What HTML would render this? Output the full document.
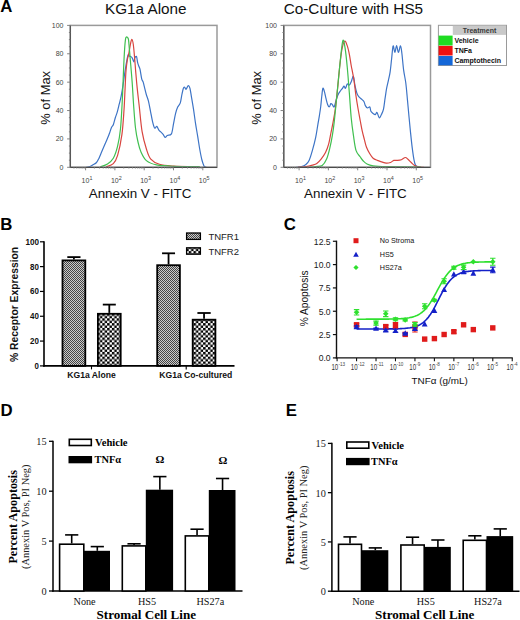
<!DOCTYPE html>
<html><head><meta charset="utf-8"><title>Figure</title>
<style>html,body{margin:0;padding:0;background:#fff;width:520px;height:620px;overflow:hidden}svg{display:block}</style>
</head><body>
<svg width="520" height="620" viewBox="0 0 520 620">
<text x="145.8" y="14.1" font-size="15.3" font-weight="normal" text-anchor="middle" fill="#111" font-family='"Liberation Sans", sans-serif'>KG1a Alone</text>
<path d="M86,167.4 C86.67,167.25 88.83,166.93 90,166.5 C91.17,166.07 91.92,165.47 93,164.8 C94.08,164.13 95.52,163.57 96.5,162.5 C97.48,161.43 98.02,160.22 98.9,158.4 C99.78,156.58 100.83,153.87 101.8,151.6 C102.77,149.33 103.73,147.05 104.7,144.8 C105.67,142.55 106.8,140.03 107.6,138.1 C108.4,136.17 108.85,134.98 109.5,133.2 C110.15,131.42 110.85,128.85 111.5,127.4 C112.15,125.95 112.77,126.12 113.4,124.5 C114.03,122.88 114.65,119.8 115.3,117.7 C115.95,115.6 116.65,114.15 117.3,111.9 C117.95,109.65 118.57,106.78 119.2,104.2 C119.83,101.62 120.45,99.63 121.1,96.4 C121.75,93.17 122.52,88.53 123.1,84.8 C123.68,81.07 124.15,77.05 124.6,74 C125.05,70.95 125.4,68.92 125.8,66.5 C126.2,64.08 126.6,61.5 127,59.5 C127.4,57.5 127.8,55.07 128.2,54.5 C128.6,53.93 128.95,55.75 129.4,56.1 C129.85,56.45 130.42,56.27 130.9,56.6 C131.38,56.93 131.82,57.22 132.3,58.1 C132.78,58.98 133.4,61.9 133.8,61.9 C134.2,61.9 134.38,58.98 134.7,58.1 C135.02,57.22 135.37,56.77 135.7,56.6 C136.03,56.43 136.37,56.05 136.7,57.1 C137.03,58.15 137.3,61.28 137.7,62.9 C138.1,64.52 138.7,65.67 139.1,66.8 C139.5,67.93 139.67,67.7 140.1,69.7 C140.53,71.7 141.2,76.77 141.7,78.8 C142.2,80.83 142.68,80.68 143.1,81.9 C143.52,83.12 143.67,84 144.2,86.1 C144.73,88.2 145.6,92.05 146.3,94.5 C147,96.95 147.7,98 148.4,100.8 C149.1,103.6 149.8,107.8 150.5,111.3 C151.2,114.8 151.9,119 152.6,121.8 C153.3,124.6 154,127.33 154.7,128.1 C155.4,128.87 156.1,126.07 156.8,126.4 C157.5,126.73 158.2,129.13 158.9,130.1 C159.6,131.07 160.3,131.5 161,132.2 C161.7,132.9 162.4,133.42 163.1,134.3 C163.8,135.18 164.5,137.32 165.2,137.5 C165.9,137.68 166.27,136 167.3,135.4 C168.33,134.8 170.37,135.82 171.4,133.9 C172.43,131.98 172.8,127.32 173.5,123.9 C174.2,120.48 174.9,116.2 175.6,113.4 C176.3,110.6 176.92,108.85 177.7,107.1 C178.48,105.35 179.6,105 180.3,102.9 C181,100.8 181.38,96.95 181.9,94.5 C182.42,92.05 182.93,89.42 183.4,88.2 C183.87,86.98 184.25,87.02 184.7,87.2 C185.15,87.38 185.52,89.55 186.1,89.3 C186.68,89.05 187.57,85.88 188.2,85.7 C188.83,85.52 189.37,86.38 189.9,88.2 C190.43,90.02 190.8,93.1 191.4,96.6 C192,100.1 192.8,104.65 193.5,109.2 C194.2,113.75 194.9,119.37 195.6,123.9 C196.3,128.43 197.02,132.22 197.7,136.4 C198.38,140.58 199.02,145.15 199.7,149 C200.38,152.85 201.1,156.7 201.8,159.5 C202.5,162.3 203.37,164.58 203.9,165.8 C204.43,167.02 204.57,166.55 205,166.8 C205.43,167.05 206.25,167.22 206.5,167.3" fill="none" stroke="#3d74c6" stroke-width="1.2" stroke-linejoin="round"/>
<path d="M106.1,166.9 C107.3,166.37 111.38,165.62 113.3,163.7 C115.22,161.78 116.17,160.25 117.6,155.4 C119.03,150.55 120.83,142.17 121.9,134.6 C122.97,127.03 123.47,117.75 124,110 C124.53,102.25 124.77,94.65 125.1,88.1 C125.43,81.55 125.6,75.55 126,70.7 C126.4,65.85 127.08,61.58 127.5,59 C127.92,56.42 128.02,57.62 128.5,55.2 C128.98,52.78 129.85,47.13 130.4,44.5 C130.95,41.87 131.32,39.4 131.8,39.4 C132.28,39.4 132.82,41.23 133.3,44.5 C133.78,47.77 134.3,54.48 134.7,59 C135.1,63.52 135.28,66.75 135.7,71.6 C136.12,76.45 136.62,82.4 137.2,88.1 C137.78,93.8 138.38,98.53 139.2,105.8 C140.02,113.07 140.9,124.5 142.1,131.7 C143.3,138.9 144.95,144.43 146.4,149 C147.85,153.57 148.63,156.55 150.8,159.1 C152.97,161.65 155.57,163.13 159.4,164.3 C163.23,165.47 168.5,165.72 173.8,166.1 C179.1,166.48 188.3,166.52 191.2,166.6" fill="none" stroke="#d8453f" stroke-width="1.2" stroke-linejoin="round"/>
<path d="M100.3,166.9 C101.5,166.42 105.33,165.43 107.5,164 C109.67,162.57 111.62,161.27 113.3,158.3 C114.98,155.33 116.4,151.12 117.6,146.2 C118.8,141.28 119.72,136.5 120.5,128.8 C121.28,121.1 121.78,110.02 122.3,100 C122.82,89.98 123.22,77.13 123.6,68.7 C123.98,60.27 124.27,54.4 124.6,49.4 C124.93,44.4 125.28,40.77 125.6,38.7 C125.92,36.63 126.18,37.2 126.5,37 C126.82,36.8 127.17,37.05 127.5,37.5 C127.83,37.95 128.18,37.72 128.5,39.7 C128.82,41.68 129,44.88 129.4,49.4 C129.8,53.92 130.42,61 130.9,66.8 C131.38,72.6 131.85,77.83 132.3,84.2 C132.75,90.57 133.07,97.7 133.6,105 C134.13,112.3 134.77,121.83 135.5,128 C136.23,134.17 137.08,138 138,142 C138.92,146 139.6,148.9 141,152 C142.4,155.1 143.82,158.45 146.4,160.6 C148.98,162.75 151.93,163.95 156.5,164.9 C161.07,165.85 166.58,166.02 173.8,166.3 C181.02,166.58 195.47,166.55 199.8,166.6" fill="none" stroke="#3fbf4f" stroke-width="1.2" stroke-linejoin="round"/>
<rect x="70.3" y="25.4" width="146.7" height="141.9" fill="none" stroke="#9a9a9a" stroke-width="1.5"/>
<line x1="70.3" y1="25.4" x2="70.3" y2="167.3" stroke="#4a4a4a" stroke-width="1.1"/>
<line x1="70.3" y1="167.3" x2="217" y2="167.3" stroke="#4a4a4a" stroke-width="1.2"/>
<line x1="67.1" y1="167.3" x2="70.3" y2="167.3" stroke="#777" stroke-width="0.9"/>
<text x="63.5" y="169.7" font-size="7" font-weight="normal" text-anchor="end" fill="#444" font-family='"Liberation Sans", sans-serif'>0</text>
<line x1="68.9" y1="160.21" x2="70.3" y2="160.21" stroke="#777" stroke-width="0.9"/>
<line x1="68.9" y1="153.11" x2="70.3" y2="153.11" stroke="#777" stroke-width="0.9"/>
<line x1="68.9" y1="146.02" x2="70.3" y2="146.02" stroke="#777" stroke-width="0.9"/>
<line x1="67.1" y1="138.92" x2="70.3" y2="138.92" stroke="#777" stroke-width="0.9"/>
<text x="63.5" y="141.32" font-size="7" font-weight="normal" text-anchor="end" fill="#444" font-family='"Liberation Sans", sans-serif'>20</text>
<line x1="68.9" y1="131.83" x2="70.3" y2="131.83" stroke="#777" stroke-width="0.9"/>
<line x1="68.9" y1="124.73" x2="70.3" y2="124.73" stroke="#777" stroke-width="0.9"/>
<line x1="68.9" y1="117.64" x2="70.3" y2="117.64" stroke="#777" stroke-width="0.9"/>
<line x1="67.1" y1="110.54" x2="70.3" y2="110.54" stroke="#777" stroke-width="0.9"/>
<text x="63.5" y="112.94" font-size="7" font-weight="normal" text-anchor="end" fill="#444" font-family='"Liberation Sans", sans-serif'>40</text>
<line x1="68.9" y1="103.45" x2="70.3" y2="103.45" stroke="#777" stroke-width="0.9"/>
<line x1="68.9" y1="96.35" x2="70.3" y2="96.35" stroke="#777" stroke-width="0.9"/>
<line x1="68.9" y1="89.26" x2="70.3" y2="89.26" stroke="#777" stroke-width="0.9"/>
<line x1="67.1" y1="82.16" x2="70.3" y2="82.16" stroke="#777" stroke-width="0.9"/>
<text x="63.5" y="84.56" font-size="7" font-weight="normal" text-anchor="end" fill="#444" font-family='"Liberation Sans", sans-serif'>60</text>
<line x1="68.9" y1="75.07" x2="70.3" y2="75.07" stroke="#777" stroke-width="0.9"/>
<line x1="68.9" y1="67.97" x2="70.3" y2="67.97" stroke="#777" stroke-width="0.9"/>
<line x1="68.9" y1="60.88" x2="70.3" y2="60.88" stroke="#777" stroke-width="0.9"/>
<line x1="67.1" y1="53.78" x2="70.3" y2="53.78" stroke="#777" stroke-width="0.9"/>
<text x="63.5" y="56.18" font-size="7" font-weight="normal" text-anchor="end" fill="#444" font-family='"Liberation Sans", sans-serif'>80</text>
<line x1="68.9" y1="46.69" x2="70.3" y2="46.69" stroke="#777" stroke-width="0.9"/>
<line x1="68.9" y1="39.59" x2="70.3" y2="39.59" stroke="#777" stroke-width="0.9"/>
<line x1="68.9" y1="32.5" x2="70.3" y2="32.5" stroke="#777" stroke-width="0.9"/>
<line x1="67.1" y1="25.4" x2="70.3" y2="25.4" stroke="#777" stroke-width="0.9"/>
<text x="63.5" y="27.8" font-size="7" font-weight="normal" text-anchor="end" fill="#444" font-family='"Liberation Sans", sans-serif'>100</text>
<line x1="73.94" y1="167.3" x2="73.94" y2="168.9" stroke="#999" stroke-width="0.7"/>
<line x1="76.78" y1="167.3" x2="76.78" y2="168.9" stroke="#999" stroke-width="0.7"/>
<line x1="79.1" y1="167.3" x2="79.1" y2="168.9" stroke="#999" stroke-width="0.7"/>
<line x1="81.06" y1="167.3" x2="81.06" y2="168.9" stroke="#999" stroke-width="0.7"/>
<line x1="82.76" y1="167.3" x2="82.76" y2="168.9" stroke="#999" stroke-width="0.7"/>
<line x1="84.26" y1="167.3" x2="84.26" y2="168.9" stroke="#999" stroke-width="0.7"/>
<line x1="85.6" y1="167.3" x2="85.6" y2="170.3" stroke="#777" stroke-width="0.9"/>
<text x="87" y="183.1" font-size="7" font-weight="normal" text-anchor="middle" fill="#444" font-family='"Liberation Sans", sans-serif'>10<tspan dy="-3.6" font-size="5.4">1</tspan></text>
<line x1="94.42" y1="167.3" x2="94.42" y2="168.9" stroke="#999" stroke-width="0.7"/>
<line x1="99.58" y1="167.3" x2="99.58" y2="168.9" stroke="#999" stroke-width="0.7"/>
<line x1="103.24" y1="167.3" x2="103.24" y2="168.9" stroke="#999" stroke-width="0.7"/>
<line x1="106.08" y1="167.3" x2="106.08" y2="168.9" stroke="#999" stroke-width="0.7"/>
<line x1="108.4" y1="167.3" x2="108.4" y2="168.9" stroke="#999" stroke-width="0.7"/>
<line x1="110.36" y1="167.3" x2="110.36" y2="168.9" stroke="#999" stroke-width="0.7"/>
<line x1="112.06" y1="167.3" x2="112.06" y2="168.9" stroke="#999" stroke-width="0.7"/>
<line x1="113.56" y1="167.3" x2="113.56" y2="168.9" stroke="#999" stroke-width="0.7"/>
<line x1="114.9" y1="167.3" x2="114.9" y2="170.3" stroke="#777" stroke-width="0.9"/>
<text x="116.3" y="183.1" font-size="7" font-weight="normal" text-anchor="middle" fill="#444" font-family='"Liberation Sans", sans-serif'>10<tspan dy="-3.6" font-size="5.4">2</tspan></text>
<line x1="123.72" y1="167.3" x2="123.72" y2="168.9" stroke="#999" stroke-width="0.7"/>
<line x1="128.88" y1="167.3" x2="128.88" y2="168.9" stroke="#999" stroke-width="0.7"/>
<line x1="132.54" y1="167.3" x2="132.54" y2="168.9" stroke="#999" stroke-width="0.7"/>
<line x1="135.38" y1="167.3" x2="135.38" y2="168.9" stroke="#999" stroke-width="0.7"/>
<line x1="137.7" y1="167.3" x2="137.7" y2="168.9" stroke="#999" stroke-width="0.7"/>
<line x1="139.66" y1="167.3" x2="139.66" y2="168.9" stroke="#999" stroke-width="0.7"/>
<line x1="141.36" y1="167.3" x2="141.36" y2="168.9" stroke="#999" stroke-width="0.7"/>
<line x1="142.86" y1="167.3" x2="142.86" y2="168.9" stroke="#999" stroke-width="0.7"/>
<line x1="144.2" y1="167.3" x2="144.2" y2="170.3" stroke="#777" stroke-width="0.9"/>
<text x="145.6" y="183.1" font-size="7" font-weight="normal" text-anchor="middle" fill="#444" font-family='"Liberation Sans", sans-serif'>10<tspan dy="-3.6" font-size="5.4">3</tspan></text>
<line x1="153.02" y1="167.3" x2="153.02" y2="168.9" stroke="#999" stroke-width="0.7"/>
<line x1="158.18" y1="167.3" x2="158.18" y2="168.9" stroke="#999" stroke-width="0.7"/>
<line x1="161.84" y1="167.3" x2="161.84" y2="168.9" stroke="#999" stroke-width="0.7"/>
<line x1="164.68" y1="167.3" x2="164.68" y2="168.9" stroke="#999" stroke-width="0.7"/>
<line x1="167" y1="167.3" x2="167" y2="168.9" stroke="#999" stroke-width="0.7"/>
<line x1="168.96" y1="167.3" x2="168.96" y2="168.9" stroke="#999" stroke-width="0.7"/>
<line x1="170.66" y1="167.3" x2="170.66" y2="168.9" stroke="#999" stroke-width="0.7"/>
<line x1="172.16" y1="167.3" x2="172.16" y2="168.9" stroke="#999" stroke-width="0.7"/>
<line x1="173.5" y1="167.3" x2="173.5" y2="170.3" stroke="#777" stroke-width="0.9"/>
<text x="174.9" y="183.1" font-size="7" font-weight="normal" text-anchor="middle" fill="#444" font-family='"Liberation Sans", sans-serif'>10<tspan dy="-3.6" font-size="5.4">4</tspan></text>
<line x1="182.32" y1="167.3" x2="182.32" y2="168.9" stroke="#999" stroke-width="0.7"/>
<line x1="187.48" y1="167.3" x2="187.48" y2="168.9" stroke="#999" stroke-width="0.7"/>
<line x1="191.14" y1="167.3" x2="191.14" y2="168.9" stroke="#999" stroke-width="0.7"/>
<line x1="193.98" y1="167.3" x2="193.98" y2="168.9" stroke="#999" stroke-width="0.7"/>
<line x1="196.3" y1="167.3" x2="196.3" y2="168.9" stroke="#999" stroke-width="0.7"/>
<line x1="198.26" y1="167.3" x2="198.26" y2="168.9" stroke="#999" stroke-width="0.7"/>
<line x1="199.96" y1="167.3" x2="199.96" y2="168.9" stroke="#999" stroke-width="0.7"/>
<line x1="201.46" y1="167.3" x2="201.46" y2="168.9" stroke="#999" stroke-width="0.7"/>
<line x1="202.8" y1="167.3" x2="202.8" y2="170.3" stroke="#777" stroke-width="0.9"/>
<text x="204.2" y="183.1" font-size="7" font-weight="normal" text-anchor="middle" fill="#444" font-family='"Liberation Sans", sans-serif'>10<tspan dy="-3.6" font-size="5.4">5</tspan></text>
<text x="140.1" y="198.4" font-size="13.4" font-weight="normal" text-anchor="middle" fill="#111" font-family='"Liberation Sans", sans-serif'>Annexin V - FITC</text>
<text x="50.1" y="97.8" font-size="12.9" font-weight="normal" text-anchor="middle" fill="#111" font-family='"Liberation Sans", sans-serif' transform="rotate(-90 50.1 97.8)">% of Max</text>
<text x="353.4" y="14.1" font-size="15.3" font-weight="normal" text-anchor="middle" fill="#111" font-family='"Liberation Sans", sans-serif'>Co-Culture with HS5</text>
<path d="M296,167.3 C296.92,167.2 299.85,167.17 301.5,166.7 C303.15,166.23 304.62,165.58 305.9,164.5 C307.18,163.42 308.12,162.55 309.2,160.2 C310.28,157.85 311.32,154.22 312.4,150.4 C313.48,146.58 314.78,141.65 315.7,137.3 C316.62,132.95 317.28,127.92 317.9,124.3 C318.52,120.68 318.93,118.52 319.4,115.6 C319.87,112.68 320.3,110.07 320.7,106.8 C321.1,103.53 321.43,99.08 321.8,96 C322.17,92.92 322.47,89.03 322.9,88.3 C323.33,87.57 323.9,89.97 324.4,91.6 C324.9,93.23 325.35,95.92 325.9,98.1 C326.45,100.28 327.12,103.25 327.7,104.7 C328.28,106.15 328.87,106.98 329.4,106.8 C329.93,106.62 330.4,103.95 330.9,103.6 C331.4,103.25 331.85,104.17 332.4,104.7 C332.95,105.23 333.53,107.72 334.2,106.8 C334.87,105.88 335.68,101.37 336.4,99.2 C337.12,97.03 337.78,95.25 338.5,93.8 C339.22,92.35 340.03,91.42 340.7,90.5 C341.37,89.58 341.95,89.02 342.5,88.3 C343.05,87.58 343.5,86.2 344,86.2 C344.5,86.2 344.95,88.67 345.5,88.3 C346.05,87.93 346.65,84.53 347.3,84 C347.95,83.47 348.75,85.47 349.4,85.1 C350.05,84.73 350.53,83.25 351.2,81.8 C351.87,80.35 352.78,75.85 353.4,76.4 C354.02,76.95 354.28,82.2 354.9,85.1 C355.52,88 356.38,91.8 357.1,93.8 C357.82,95.8 358.48,96.23 359.2,97.1 C359.92,97.97 360.62,98.27 361.4,99 C362.18,99.73 363.22,100.35 363.9,101.5 C364.58,102.65 364.88,104.82 365.5,105.9 C366.12,106.98 366.88,107.83 367.6,108 C368.32,108.17 369.25,106.35 369.8,106.9 C370.35,107.45 370.35,110.2 370.9,111.3 C371.45,112.4 372.37,112.95 373.1,113.5 C373.83,114.05 374.65,114.78 375.3,114.6 C375.95,114.42 376.35,111.87 377,112.4 C377.65,112.93 378.47,117.43 379.2,117.8 C379.93,118.17 380.68,116.05 381.4,114.6 C382.12,113.15 382.88,111.83 383.5,109.1 C384.12,106.37 384.58,101.65 385.1,98.2 C385.62,94.75 386.07,91.3 386.6,88.4 C387.13,85.5 387.72,83.52 388.3,80.8 C388.88,78.08 389.55,75.73 390.1,72.1 C390.65,68.47 391.1,63.37 391.6,59 C392.1,54.63 392.55,47 393.1,45.9 C393.65,44.8 394.32,52.47 394.9,52.4 C395.48,52.33 396.02,45.5 396.6,45.5 C397.18,45.5 397.75,52.33 398.4,52.4 C399.05,52.47 399.92,45.72 400.5,45.9 C401.08,46.08 401.38,49.5 401.9,53.5 C402.42,57.5 402.95,64.98 403.6,69.9 C404.25,74.82 405.15,77.92 405.8,83 C406.45,88.08 406.95,94.6 407.5,100.4 C408.05,106.2 408.58,112.35 409.1,117.8 C409.62,123.25 410.07,128 410.6,133.1 C411.13,138.2 411.72,143.85 412.3,148.4 C412.88,152.95 413.55,157.57 414.1,160.4 C414.65,163.23 414.98,164.32 415.6,165.4 C416.22,166.48 417.23,166.58 417.8,166.9 C418.37,167.22 418.8,167.23 419,167.3" fill="none" stroke="#3d74c6" stroke-width="1.2" stroke-linejoin="round"/>
<path d="M298,167.2 C299.32,167.12 303.5,167.03 305.9,166.7 C308.3,166.37 310.58,165.73 312.4,165.2 C314.22,164.67 315.35,164.52 316.8,163.5 C318.25,162.48 319.65,160.92 321.1,159.1 C322.55,157.28 324.23,155.13 325.5,152.6 C326.77,150.07 327.8,147.17 328.7,143.9 C329.6,140.63 330.17,136.63 330.9,133 C331.63,129.37 332.37,126.1 333.1,122.1 C333.83,118.1 334.57,114.45 335.3,109 C336.03,103.55 336.78,96.28 337.5,89.4 C338.22,82.52 338.88,74.23 339.6,67.7 C340.32,61.17 340.97,54.63 341.8,50.2 C342.63,45.77 343.68,41.82 344.6,41.1 C345.52,40.38 346.5,43.65 347.3,45.9 C348.1,48.15 348.75,51.33 349.4,54.6 C350.05,57.87 350.65,62.42 351.2,65.5 C351.75,68.58 352.2,70.38 352.7,73.1 C353.2,75.82 353.65,77.98 354.2,81.8 C354.75,85.62 355.35,91.47 356,96 C356.65,100.53 357.38,104.83 358.1,109 C358.82,113.17 359.62,117.35 360.3,121 C360.98,124.65 361.52,127.8 362.2,130.9 C362.88,134 363.68,136.87 364.4,139.6 C365.12,142.33 365.6,144.93 366.5,147.3 C367.4,149.67 368.7,151.98 369.8,153.8 C370.9,155.62 371.83,157.1 373.1,158.2 C374.37,159.3 375.95,159.78 377.4,160.4 C378.85,161.02 380.33,161.43 381.8,161.9 C383.27,162.37 384.75,163.1 386.2,163.2 C387.65,163.3 389.23,162.97 390.5,162.5 C391.77,162.03 392.7,160.75 393.8,160.4 C394.9,160.05 395.83,160.52 397.1,160.4 C398.37,160.28 400.03,160.18 401.4,159.7 C402.77,159.22 404.2,157.57 405.3,157.5 C406.4,157.43 407.02,158.47 408,159.3 C408.98,160.13 410.12,161.48 411.2,162.5 C412.28,163.52 413.22,164.67 414.5,165.4 C415.78,166.13 417.32,166.58 418.9,166.9 C420.48,167.22 423.15,167.23 424,167.3" fill="none" stroke="#d8453f" stroke-width="1.2" stroke-linejoin="round"/>
<path d="M310,167.2 C311,167.08 313.97,166.77 316,166.5 C318.03,166.23 320.43,166.83 322.2,165.6 C323.97,164.37 325.33,162 326.6,159.1 C327.87,156.2 328.83,152.18 329.8,148.2 C330.77,144.22 331.67,139.55 332.4,135.2 C333.13,130.85 333.53,127.92 334.2,122.1 C334.87,116.28 335.68,107.57 336.4,100.3 C337.12,93.03 337.78,85.75 338.5,78.5 C339.22,71.25 339.97,63.15 340.7,56.8 C341.43,50.45 342.17,41.85 342.9,40.4 C343.63,38.95 344.37,43.55 345.1,48.1 C345.83,52.65 346.58,60.08 347.3,67.7 C348.02,75.32 348.75,85.47 349.4,93.8 C350.05,102.13 350.53,110.8 351.2,117.7 C351.87,124.6 352.6,129.75 353.4,135.2 C354.2,140.65 354.85,146.77 356,150.4 C357.15,154.03 359.08,155.23 360.3,157 C361.52,158.77 362.18,159.83 363.3,161 C364.42,162.17 365.37,163.2 367,164 C368.63,164.8 369.9,165.37 373.1,165.8 C376.3,166.23 378.22,166.4 386.2,166.6 C394.18,166.8 415.2,166.93 421,167" fill="none" stroke="#3fbf4f" stroke-width="1.2" stroke-linejoin="round"/>
<rect x="283.8" y="25.4" width="146.7" height="141.9" fill="none" stroke="#9a9a9a" stroke-width="1.5"/>
<line x1="283.8" y1="25.4" x2="283.8" y2="167.3" stroke="#4a4a4a" stroke-width="1.1"/>
<line x1="283.8" y1="167.3" x2="430.5" y2="167.3" stroke="#4a4a4a" stroke-width="1.2"/>
<line x1="280.6" y1="167.3" x2="283.8" y2="167.3" stroke="#777" stroke-width="0.9"/>
<text x="277" y="169.7" font-size="7" font-weight="normal" text-anchor="end" fill="#444" font-family='"Liberation Sans", sans-serif'>0</text>
<line x1="282.4" y1="160.21" x2="283.8" y2="160.21" stroke="#777" stroke-width="0.9"/>
<line x1="282.4" y1="153.11" x2="283.8" y2="153.11" stroke="#777" stroke-width="0.9"/>
<line x1="282.4" y1="146.02" x2="283.8" y2="146.02" stroke="#777" stroke-width="0.9"/>
<line x1="280.6" y1="138.92" x2="283.8" y2="138.92" stroke="#777" stroke-width="0.9"/>
<text x="277" y="141.32" font-size="7" font-weight="normal" text-anchor="end" fill="#444" font-family='"Liberation Sans", sans-serif'>20</text>
<line x1="282.4" y1="131.83" x2="283.8" y2="131.83" stroke="#777" stroke-width="0.9"/>
<line x1="282.4" y1="124.73" x2="283.8" y2="124.73" stroke="#777" stroke-width="0.9"/>
<line x1="282.4" y1="117.64" x2="283.8" y2="117.64" stroke="#777" stroke-width="0.9"/>
<line x1="280.6" y1="110.54" x2="283.8" y2="110.54" stroke="#777" stroke-width="0.9"/>
<text x="277" y="112.94" font-size="7" font-weight="normal" text-anchor="end" fill="#444" font-family='"Liberation Sans", sans-serif'>40</text>
<line x1="282.4" y1="103.45" x2="283.8" y2="103.45" stroke="#777" stroke-width="0.9"/>
<line x1="282.4" y1="96.35" x2="283.8" y2="96.35" stroke="#777" stroke-width="0.9"/>
<line x1="282.4" y1="89.26" x2="283.8" y2="89.26" stroke="#777" stroke-width="0.9"/>
<line x1="280.6" y1="82.16" x2="283.8" y2="82.16" stroke="#777" stroke-width="0.9"/>
<text x="277" y="84.56" font-size="7" font-weight="normal" text-anchor="end" fill="#444" font-family='"Liberation Sans", sans-serif'>60</text>
<line x1="282.4" y1="75.07" x2="283.8" y2="75.07" stroke="#777" stroke-width="0.9"/>
<line x1="282.4" y1="67.97" x2="283.8" y2="67.97" stroke="#777" stroke-width="0.9"/>
<line x1="282.4" y1="60.88" x2="283.8" y2="60.88" stroke="#777" stroke-width="0.9"/>
<line x1="280.6" y1="53.78" x2="283.8" y2="53.78" stroke="#777" stroke-width="0.9"/>
<text x="277" y="56.18" font-size="7" font-weight="normal" text-anchor="end" fill="#444" font-family='"Liberation Sans", sans-serif'>80</text>
<line x1="282.4" y1="46.69" x2="283.8" y2="46.69" stroke="#777" stroke-width="0.9"/>
<line x1="282.4" y1="39.59" x2="283.8" y2="39.59" stroke="#777" stroke-width="0.9"/>
<line x1="282.4" y1="32.5" x2="283.8" y2="32.5" stroke="#777" stroke-width="0.9"/>
<line x1="280.6" y1="25.4" x2="283.8" y2="25.4" stroke="#777" stroke-width="0.9"/>
<text x="277" y="27.8" font-size="7" font-weight="normal" text-anchor="end" fill="#444" font-family='"Liberation Sans", sans-serif'>100</text>
<line x1="287.44" y1="167.3" x2="287.44" y2="168.9" stroke="#999" stroke-width="0.7"/>
<line x1="290.28" y1="167.3" x2="290.28" y2="168.9" stroke="#999" stroke-width="0.7"/>
<line x1="292.6" y1="167.3" x2="292.6" y2="168.9" stroke="#999" stroke-width="0.7"/>
<line x1="294.56" y1="167.3" x2="294.56" y2="168.9" stroke="#999" stroke-width="0.7"/>
<line x1="296.26" y1="167.3" x2="296.26" y2="168.9" stroke="#999" stroke-width="0.7"/>
<line x1="297.76" y1="167.3" x2="297.76" y2="168.9" stroke="#999" stroke-width="0.7"/>
<line x1="299.1" y1="167.3" x2="299.1" y2="170.3" stroke="#777" stroke-width="0.9"/>
<text x="300.5" y="183.1" font-size="7" font-weight="normal" text-anchor="middle" fill="#444" font-family='"Liberation Sans", sans-serif'>10<tspan dy="-3.6" font-size="5.4">1</tspan></text>
<line x1="307.92" y1="167.3" x2="307.92" y2="168.9" stroke="#999" stroke-width="0.7"/>
<line x1="313.08" y1="167.3" x2="313.08" y2="168.9" stroke="#999" stroke-width="0.7"/>
<line x1="316.74" y1="167.3" x2="316.74" y2="168.9" stroke="#999" stroke-width="0.7"/>
<line x1="319.58" y1="167.3" x2="319.58" y2="168.9" stroke="#999" stroke-width="0.7"/>
<line x1="321.9" y1="167.3" x2="321.9" y2="168.9" stroke="#999" stroke-width="0.7"/>
<line x1="323.86" y1="167.3" x2="323.86" y2="168.9" stroke="#999" stroke-width="0.7"/>
<line x1="325.56" y1="167.3" x2="325.56" y2="168.9" stroke="#999" stroke-width="0.7"/>
<line x1="327.06" y1="167.3" x2="327.06" y2="168.9" stroke="#999" stroke-width="0.7"/>
<line x1="328.4" y1="167.3" x2="328.4" y2="170.3" stroke="#777" stroke-width="0.9"/>
<text x="329.8" y="183.1" font-size="7" font-weight="normal" text-anchor="middle" fill="#444" font-family='"Liberation Sans", sans-serif'>10<tspan dy="-3.6" font-size="5.4">2</tspan></text>
<line x1="337.22" y1="167.3" x2="337.22" y2="168.9" stroke="#999" stroke-width="0.7"/>
<line x1="342.38" y1="167.3" x2="342.38" y2="168.9" stroke="#999" stroke-width="0.7"/>
<line x1="346.04" y1="167.3" x2="346.04" y2="168.9" stroke="#999" stroke-width="0.7"/>
<line x1="348.88" y1="167.3" x2="348.88" y2="168.9" stroke="#999" stroke-width="0.7"/>
<line x1="351.2" y1="167.3" x2="351.2" y2="168.9" stroke="#999" stroke-width="0.7"/>
<line x1="353.16" y1="167.3" x2="353.16" y2="168.9" stroke="#999" stroke-width="0.7"/>
<line x1="354.86" y1="167.3" x2="354.86" y2="168.9" stroke="#999" stroke-width="0.7"/>
<line x1="356.36" y1="167.3" x2="356.36" y2="168.9" stroke="#999" stroke-width="0.7"/>
<line x1="357.7" y1="167.3" x2="357.7" y2="170.3" stroke="#777" stroke-width="0.9"/>
<text x="359.1" y="183.1" font-size="7" font-weight="normal" text-anchor="middle" fill="#444" font-family='"Liberation Sans", sans-serif'>10<tspan dy="-3.6" font-size="5.4">3</tspan></text>
<line x1="366.52" y1="167.3" x2="366.52" y2="168.9" stroke="#999" stroke-width="0.7"/>
<line x1="371.68" y1="167.3" x2="371.68" y2="168.9" stroke="#999" stroke-width="0.7"/>
<line x1="375.34" y1="167.3" x2="375.34" y2="168.9" stroke="#999" stroke-width="0.7"/>
<line x1="378.18" y1="167.3" x2="378.18" y2="168.9" stroke="#999" stroke-width="0.7"/>
<line x1="380.5" y1="167.3" x2="380.5" y2="168.9" stroke="#999" stroke-width="0.7"/>
<line x1="382.46" y1="167.3" x2="382.46" y2="168.9" stroke="#999" stroke-width="0.7"/>
<line x1="384.16" y1="167.3" x2="384.16" y2="168.9" stroke="#999" stroke-width="0.7"/>
<line x1="385.66" y1="167.3" x2="385.66" y2="168.9" stroke="#999" stroke-width="0.7"/>
<line x1="387" y1="167.3" x2="387" y2="170.3" stroke="#777" stroke-width="0.9"/>
<text x="388.4" y="183.1" font-size="7" font-weight="normal" text-anchor="middle" fill="#444" font-family='"Liberation Sans", sans-serif'>10<tspan dy="-3.6" font-size="5.4">4</tspan></text>
<line x1="395.82" y1="167.3" x2="395.82" y2="168.9" stroke="#999" stroke-width="0.7"/>
<line x1="400.98" y1="167.3" x2="400.98" y2="168.9" stroke="#999" stroke-width="0.7"/>
<line x1="404.64" y1="167.3" x2="404.64" y2="168.9" stroke="#999" stroke-width="0.7"/>
<line x1="407.48" y1="167.3" x2="407.48" y2="168.9" stroke="#999" stroke-width="0.7"/>
<line x1="409.8" y1="167.3" x2="409.8" y2="168.9" stroke="#999" stroke-width="0.7"/>
<line x1="411.76" y1="167.3" x2="411.76" y2="168.9" stroke="#999" stroke-width="0.7"/>
<line x1="413.46" y1="167.3" x2="413.46" y2="168.9" stroke="#999" stroke-width="0.7"/>
<line x1="414.96" y1="167.3" x2="414.96" y2="168.9" stroke="#999" stroke-width="0.7"/>
<line x1="416.3" y1="167.3" x2="416.3" y2="170.3" stroke="#777" stroke-width="0.9"/>
<text x="417.7" y="183.1" font-size="7" font-weight="normal" text-anchor="middle" fill="#444" font-family='"Liberation Sans", sans-serif'>10<tspan dy="-3.6" font-size="5.4">5</tspan></text>
<text x="355.4" y="198.4" font-size="13.4" font-weight="normal" text-anchor="middle" fill="#111" font-family='"Liberation Sans", sans-serif'>Annexin V - FITC</text>
<text x="261.2" y="97.8" font-size="12.9" font-weight="normal" text-anchor="middle" fill="#111" font-family='"Liberation Sans", sans-serif' transform="rotate(-90 261.2 97.8)">% of Max</text>
<rect x="438.4" y="25.3" width="68.1" height="40.2" fill="#fff" stroke="#9a9a9a" stroke-width="1"/>
<rect x="452.8" y="25.8" width="53.2" height="9.1" fill="#c9c9c9"/>
<text x="479.6" y="33.2" font-size="7" font-weight="bold" text-anchor="middle" fill="#3a3a3a" font-family='"Liberation Sans", sans-serif'>Treatment</text>
<rect x="438.6" y="35.6" width="14" height="9.9" fill="#1fdc22"/>
<rect x="438.6" y="45.9" width="14" height="9.6" fill="#ee1010"/>
<rect x="438.6" y="56" width="14" height="9.3" fill="#1467d8"/>
<text x="454.4" y="43.2" font-size="7" font-weight="bold" text-anchor="start" fill="#111" font-family='"Liberation Sans", sans-serif'>Vehicle</text>
<text x="454.4" y="53.3" font-size="7" font-weight="bold" text-anchor="start" fill="#111" font-family='"Liberation Sans", sans-serif'>TNFa</text>
<text x="454.4" y="63.3" font-size="7" font-weight="bold" text-anchor="start" fill="#111" font-family='"Liberation Sans", sans-serif'>Camptothecin</text>
<text x="0.2" y="12.3" font-size="16.8" font-weight="bold" text-anchor="start" fill="#000" font-family='"Liberation Sans", sans-serif'>A</text>
<text x="0.2" y="230.4" font-size="16.8" font-weight="bold" text-anchor="start" fill="#000" font-family='"Liberation Sans", sans-serif'>B</text>
<text x="283.8" y="230.2" font-size="16.8" font-weight="bold" text-anchor="start" fill="#000" font-family='"Liberation Sans", sans-serif'>C</text>
<text x="0.4" y="415.6" font-size="16.8" font-weight="bold" text-anchor="start" fill="#000" font-family='"Liberation Sans", sans-serif'>D</text>
<text x="285.8" y="415.8" font-size="16.8" font-weight="bold" text-anchor="start" fill="#000" font-family='"Liberation Sans", sans-serif'>E</text>
<defs>
<pattern id="fine" width="2" height="2" patternUnits="userSpaceOnUse">
<rect width="2" height="2" fill="#cacaca"/><rect width="1" height="1" fill="#444"/><rect x="1" y="1" width="1" height="1" fill="#444"/>
</pattern>
<pattern id="coarse" width="4.8" height="4.8" patternUnits="userSpaceOnUse" x="97.5" y="313.5">
<rect width="4.8" height="4.8" fill="#fff"/><rect x="0" y="0" width="2.5" height="2.5" fill="#000"/><rect x="2.4" y="2.4" width="2.5" height="2.5" fill="#000"/>
</pattern>
</defs>
<line x1="44" y1="241.2" x2="44" y2="366.7" stroke="#000" stroke-width="1.6"/>
<line x1="43.2" y1="365.9" x2="234.5" y2="365.9" stroke="#000" stroke-width="1.6"/>
<line x1="40" y1="365.9" x2="44" y2="365.9" stroke="#000" stroke-width="1.2"/>
<text x="39" y="368.8" font-size="9.4" font-weight="bold" text-anchor="end" fill="#111" font-family='"Liberation Sans", sans-serif' textLength="4.4" lengthAdjust="spacingAndGlyphs">0</text>
<line x1="40" y1="341.08" x2="44" y2="341.08" stroke="#000" stroke-width="1.2"/>
<text x="39" y="343.98" font-size="9.4" font-weight="bold" text-anchor="end" fill="#111" font-family='"Liberation Sans", sans-serif' textLength="8.9" lengthAdjust="spacingAndGlyphs">20</text>
<line x1="40" y1="316.26" x2="44" y2="316.26" stroke="#000" stroke-width="1.2"/>
<text x="39" y="319.16" font-size="9.4" font-weight="bold" text-anchor="end" fill="#111" font-family='"Liberation Sans", sans-serif' textLength="8.9" lengthAdjust="spacingAndGlyphs">40</text>
<line x1="40" y1="291.44" x2="44" y2="291.44" stroke="#000" stroke-width="1.2"/>
<text x="39" y="294.34" font-size="9.4" font-weight="bold" text-anchor="end" fill="#111" font-family='"Liberation Sans", sans-serif' textLength="8.9" lengthAdjust="spacingAndGlyphs">60</text>
<line x1="40" y1="266.62" x2="44" y2="266.62" stroke="#000" stroke-width="1.2"/>
<text x="39" y="269.52" font-size="9.4" font-weight="bold" text-anchor="end" fill="#111" font-family='"Liberation Sans", sans-serif' textLength="8.9" lengthAdjust="spacingAndGlyphs">80</text>
<line x1="40" y1="241.8" x2="44" y2="241.8" stroke="#000" stroke-width="1.2"/>
<text x="39" y="244.7" font-size="9.4" font-weight="bold" text-anchor="end" fill="#111" font-family='"Liberation Sans", sans-serif' textLength="13.6" lengthAdjust="spacingAndGlyphs">100</text>
<line x1="91.5" y1="365.9" x2="91.5" y2="369.4" stroke="#000" stroke-width="1.1"/>
<line x1="186.2" y1="365.9" x2="186.2" y2="369.4" stroke="#000" stroke-width="1.1"/>
<line x1="73.9" y1="259.5" x2="73.9" y2="257.1" stroke="#000" stroke-width="1.8"/>
<line x1="67.3" y1="257.1" x2="80.5" y2="257.1" stroke="#000" stroke-width="1.8"/>
<rect x="62.5" y="260.4" width="22.8" height="105.5" fill="url(#fine)" stroke="#000" stroke-width="1.8"/>
<line x1="109.3" y1="312.9" x2="109.3" y2="304.6" stroke="#000" stroke-width="1.8"/>
<line x1="102.8" y1="304.6" x2="115.8" y2="304.6" stroke="#000" stroke-width="1.8"/>
<rect x="97.9" y="313.8" width="22.8" height="52.1" fill="url(#coarse)" stroke="#000" stroke-width="1.8"/>
<line x1="168.55" y1="264.3" x2="168.55" y2="253.3" stroke="#000" stroke-width="1.8"/>
<line x1="162.05" y1="253.3" x2="175.05" y2="253.3" stroke="#000" stroke-width="1.8"/>
<rect x="157.2" y="265.2" width="22.7" height="100.7" fill="url(#fine)" stroke="#000" stroke-width="1.8"/>
<line x1="204.05" y1="318.8" x2="204.05" y2="313" stroke="#000" stroke-width="1.8"/>
<line x1="197.4" y1="313" x2="210.7" y2="313" stroke="#000" stroke-width="1.8"/>
<rect x="192.7" y="319.7" width="22.7" height="46.2" fill="url(#coarse)" stroke="#000" stroke-width="1.8"/>
<rect x="186.6" y="233" width="13.8" height="6.4" fill="url(#fine)" stroke="#000" stroke-width="1.3"/>
<rect x="186.6" y="247.8" width="13.8" height="6.4" fill="url(#coarse)" stroke="#000" stroke-width="1.3"/>
<text x="208.4" y="239.7" font-size="9.5" font-weight="normal" text-anchor="start" fill="#222" font-family='"Liberation Sans", sans-serif'>TNFR1</text>
<text x="208.4" y="254.5" font-size="9.5" font-weight="normal" text-anchor="start" fill="#222" font-family='"Liberation Sans", sans-serif'>TNFR2</text>
<text x="91.5" y="378.3" font-size="8.6" font-weight="bold" text-anchor="middle" fill="#111" font-family='"Liberation Sans", sans-serif'>KG1a Alone</text>
<text x="195.8" y="378.3" font-size="8.6" font-weight="bold" text-anchor="middle" fill="#111" font-family='"Liberation Sans", sans-serif'>KG1a Co-cultured</text>
<text x="17.7" y="304.4" font-size="10.3" font-weight="bold" text-anchor="middle" fill="#111" font-family='"Liberation Sans", sans-serif' transform="rotate(-90 17.7 304.4)">% Receptor Expression</text>
<line x1="336.5" y1="240.67" x2="336.5" y2="358.6" stroke="#111" stroke-width="1.4"/>
<line x1="335.8" y1="357.9" x2="512.8" y2="357.9" stroke="#111" stroke-width="1.4"/>
<line x1="332.9" y1="357.9" x2="336.5" y2="357.9" stroke="#111" stroke-width="1.2"/>
<text x="330.6" y="361.2" font-size="8.6" font-weight="normal" text-anchor="end" fill="#1a1a1a" font-family='"Liberation Sans", sans-serif'>0.0</text>
<line x1="332.9" y1="334.57" x2="336.5" y2="334.57" stroke="#111" stroke-width="1.2"/>
<text x="330.6" y="337.88" font-size="8.6" font-weight="normal" text-anchor="end" fill="#1a1a1a" font-family='"Liberation Sans", sans-serif'>2.5</text>
<line x1="332.9" y1="311.25" x2="336.5" y2="311.25" stroke="#111" stroke-width="1.2"/>
<text x="330.6" y="314.55" font-size="8.6" font-weight="normal" text-anchor="end" fill="#1a1a1a" font-family='"Liberation Sans", sans-serif'>5.0</text>
<line x1="332.9" y1="287.92" x2="336.5" y2="287.92" stroke="#111" stroke-width="1.2"/>
<text x="330.6" y="291.22" font-size="8.6" font-weight="normal" text-anchor="end" fill="#1a1a1a" font-family='"Liberation Sans", sans-serif'>7.5</text>
<line x1="332.9" y1="264.6" x2="336.5" y2="264.6" stroke="#111" stroke-width="1.2"/>
<text x="330.6" y="267.9" font-size="8.6" font-weight="normal" text-anchor="end" fill="#1a1a1a" font-family='"Liberation Sans", sans-serif'>10.0</text>
<line x1="332.9" y1="241.27" x2="336.5" y2="241.27" stroke="#111" stroke-width="1.2"/>
<text x="330.6" y="244.57" font-size="8.6" font-weight="normal" text-anchor="end" fill="#1a1a1a" font-family='"Liberation Sans", sans-serif'>12.5</text>
<line x1="337.1" y1="357.9" x2="337.1" y2="361.3" stroke="#111" stroke-width="1.1"/>
<text x="334.8" y="370.2" font-size="8.8" font-weight="normal" text-anchor="middle" fill="#333" font-family='"Liberation Sans", sans-serif' textLength="6.8" lengthAdjust="spacingAndGlyphs">10</text>
<text x="338.4" y="365.6" font-size="4.6" font-weight="normal" text-anchor="start" fill="#444" font-family='"Liberation Sans", sans-serif'>-13</text>
<line x1="356.56" y1="357.9" x2="356.56" y2="361.3" stroke="#111" stroke-width="1.1"/>
<text x="354.26" y="370.2" font-size="8.8" font-weight="normal" text-anchor="middle" fill="#333" font-family='"Liberation Sans", sans-serif' textLength="6.8" lengthAdjust="spacingAndGlyphs">10</text>
<text x="357.86" y="365.6" font-size="4.6" font-weight="normal" text-anchor="start" fill="#444" font-family='"Liberation Sans", sans-serif'>-12</text>
<line x1="376.02" y1="357.9" x2="376.02" y2="361.3" stroke="#111" stroke-width="1.1"/>
<text x="373.72" y="370.2" font-size="8.8" font-weight="normal" text-anchor="middle" fill="#333" font-family='"Liberation Sans", sans-serif' textLength="6.8" lengthAdjust="spacingAndGlyphs">10</text>
<text x="377.32" y="365.6" font-size="4.6" font-weight="normal" text-anchor="start" fill="#444" font-family='"Liberation Sans", sans-serif'>-11</text>
<line x1="395.48" y1="357.9" x2="395.48" y2="361.3" stroke="#111" stroke-width="1.1"/>
<text x="393.18" y="370.2" font-size="8.8" font-weight="normal" text-anchor="middle" fill="#333" font-family='"Liberation Sans", sans-serif' textLength="6.8" lengthAdjust="spacingAndGlyphs">10</text>
<text x="396.78" y="365.6" font-size="4.6" font-weight="normal" text-anchor="start" fill="#444" font-family='"Liberation Sans", sans-serif'>-10</text>
<line x1="414.94" y1="357.9" x2="414.94" y2="361.3" stroke="#111" stroke-width="1.1"/>
<text x="412.64" y="370.2" font-size="8.8" font-weight="normal" text-anchor="middle" fill="#333" font-family='"Liberation Sans", sans-serif' textLength="6.8" lengthAdjust="spacingAndGlyphs">10</text>
<text x="416.24" y="365.6" font-size="4.6" font-weight="normal" text-anchor="start" fill="#444" font-family='"Liberation Sans", sans-serif'>-9</text>
<line x1="434.4" y1="357.9" x2="434.4" y2="361.3" stroke="#111" stroke-width="1.1"/>
<text x="432.1" y="370.2" font-size="8.8" font-weight="normal" text-anchor="middle" fill="#333" font-family='"Liberation Sans", sans-serif' textLength="6.8" lengthAdjust="spacingAndGlyphs">10</text>
<text x="435.7" y="365.6" font-size="4.6" font-weight="normal" text-anchor="start" fill="#444" font-family='"Liberation Sans", sans-serif'>-8</text>
<line x1="453.86" y1="357.9" x2="453.86" y2="361.3" stroke="#111" stroke-width="1.1"/>
<text x="451.56" y="370.2" font-size="8.8" font-weight="normal" text-anchor="middle" fill="#333" font-family='"Liberation Sans", sans-serif' textLength="6.8" lengthAdjust="spacingAndGlyphs">10</text>
<text x="455.16" y="365.6" font-size="4.6" font-weight="normal" text-anchor="start" fill="#444" font-family='"Liberation Sans", sans-serif'>-7</text>
<line x1="473.32" y1="357.9" x2="473.32" y2="361.3" stroke="#111" stroke-width="1.1"/>
<text x="471.02" y="370.2" font-size="8.8" font-weight="normal" text-anchor="middle" fill="#333" font-family='"Liberation Sans", sans-serif' textLength="6.8" lengthAdjust="spacingAndGlyphs">10</text>
<text x="474.62" y="365.6" font-size="4.6" font-weight="normal" text-anchor="start" fill="#444" font-family='"Liberation Sans", sans-serif'>-6</text>
<line x1="492.78" y1="357.9" x2="492.78" y2="361.3" stroke="#111" stroke-width="1.1"/>
<text x="490.48" y="370.2" font-size="8.8" font-weight="normal" text-anchor="middle" fill="#333" font-family='"Liberation Sans", sans-serif' textLength="6.8" lengthAdjust="spacingAndGlyphs">10</text>
<text x="494.08" y="365.6" font-size="4.6" font-weight="normal" text-anchor="start" fill="#444" font-family='"Liberation Sans", sans-serif'>-5</text>
<line x1="512.24" y1="357.9" x2="512.24" y2="361.3" stroke="#111" stroke-width="1.1"/>
<text x="509.94" y="370.2" font-size="8.8" font-weight="normal" text-anchor="middle" fill="#333" font-family='"Liberation Sans", sans-serif' textLength="6.8" lengthAdjust="spacingAndGlyphs">10</text>
<text x="513.54" y="365.6" font-size="4.6" font-weight="normal" text-anchor="start" fill="#444" font-family='"Liberation Sans", sans-serif'>-4</text>
<text x="439.6" y="384" font-size="9.9" font-weight="normal" text-anchor="middle" fill="#111" font-family='"Liberation Sans", sans-serif'>TNFα (g/mL)</text>
<text x="307.6" y="298.3" font-size="10.2" font-weight="normal" text-anchor="middle" fill="#111" font-family='"Liberation Sans", sans-serif' transform="rotate(-90 307.6 298.3)">% Apoptosis</text>
<rect x="353.5" y="238.2" width="5" height="5" fill="#e01b1b"/>
<path d="M356,251.66 L358.8,256.84 L353.2,256.84 Z" fill="#1420c8"/>
<path d="M356,264.9 L358.6,267.5 L356,270.1 L353.4,267.5 Z" fill="#2ee02e"/>
<text x="379.8" y="242.9" font-size="7.2" font-weight="normal" text-anchor="start" fill="#111" font-family='"Liberation Sans", sans-serif'>No Stroma</text>
<text x="379.8" y="256.6" font-size="7.2" font-weight="normal" text-anchor="start" fill="#111" font-family='"Liberation Sans", sans-serif'>HS5</text>
<text x="379.8" y="269.6" font-size="7.2" font-weight="normal" text-anchor="start" fill="#111" font-family='"Liberation Sans", sans-serif'>HS27a</text>
<path d="M356.56,319.18 L357.53,319.18 L358.51,319.18 L359.48,319.18 L360.45,319.18 L361.43,319.18 L362.4,319.18 L363.37,319.18 L364.34,319.18 L365.32,319.18 L366.29,319.17 L367.26,319.17 L368.24,319.17 L369.21,319.17 L370.18,319.17 L371.16,319.17 L372.13,319.17 L373.1,319.17 L374.07,319.17 L375.05,319.16 L376.02,319.16 L376.99,319.16 L377.97,319.16 L378.94,319.15 L379.91,319.15 L380.89,319.14 L381.86,319.14 L382.83,319.13 L383.8,319.13 L384.78,319.12 L385.75,319.11 L386.72,319.1 L387.7,319.09 L388.67,319.08 L389.64,319.06 L390.62,319.05 L391.59,319.03 L392.56,319.01 L393.53,318.99 L394.51,318.96 L395.48,318.93 L396.45,318.9 L397.43,318.86 L398.4,318.82 L399.37,318.77 L400.35,318.72 L401.32,318.66 L402.29,318.59 L403.26,318.51 L404.24,318.42 L405.21,318.32 L406.18,318.2 L407.16,318.07 L408.13,317.92 L409.1,317.76 L410.08,317.57 L411.05,317.36 L412.02,317.13 L412.99,316.86 L413.97,316.56 L414.94,316.22 L415.91,315.85 L416.89,315.43 L417.86,314.96 L418.83,314.44 L419.81,313.85 L420.78,313.21 L421.75,312.5 L422.72,311.71 L423.7,310.85 L424.67,309.91 L425.64,308.88 L426.62,307.77 L427.59,306.56 L428.56,305.27 L429.54,303.9 L430.51,302.44 L431.48,300.89 L432.45,299.28 L433.43,297.61 L434.4,295.88 L435.37,294.1 L436.35,292.3 L437.32,290.49 L438.29,288.68 L439.27,286.88 L440.24,285.11 L441.21,283.38 L442.18,281.7 L443.16,280.09 L444.13,278.55 L445.1,277.08 L446.08,275.71 L447.05,274.42 L448.02,273.21 L449,272.1 L449.97,271.07 L450.94,270.13 L451.91,269.27 L452.89,268.48 L453.86,267.77 L454.83,267.13 L455.81,266.55 L456.78,266.02 L457.75,265.55 L458.73,265.13 L459.7,264.76 L460.67,264.42 L461.64,264.12 L462.62,263.86 L463.59,263.62 L464.56,263.41 L465.54,263.22 L466.51,263.06 L467.48,262.91 L468.46,262.78 L469.43,262.67 L470.4,262.56 L471.37,262.47 L472.35,262.4 L473.32,262.33 L474.29,262.26 L475.27,262.21 L476.24,262.16 L477.21,262.12 L478.19,262.08 L479.16,262.05 L480.13,262.02 L481.1,261.99 L482.08,261.97 L483.05,261.95 L484.02,261.93 L485,261.92 L485.97,261.9 L486.94,261.89 L487.92,261.88 L488.89,261.87 L489.86,261.86 L490.83,261.86 L491.81,261.85" fill="none" stroke="#2ee02e" stroke-width="1.6"/>
<path d="M356.56,328.98 L357.53,328.98 L358.51,328.98 L359.48,328.98 L360.45,328.98 L361.43,328.98 L362.4,328.98 L363.37,328.97 L364.34,328.97 L365.32,328.97 L366.29,328.97 L367.26,328.97 L368.24,328.97 L369.21,328.97 L370.18,328.97 L371.16,328.97 L372.13,328.97 L373.1,328.97 L374.07,328.97 L375.05,328.97 L376.02,328.97 L376.99,328.96 L377.97,328.96 L378.94,328.96 L379.91,328.96 L380.89,328.95 L381.86,328.95 L382.83,328.95 L383.8,328.94 L384.78,328.94 L385.75,328.93 L386.72,328.93 L387.7,328.92 L388.67,328.91 L389.64,328.9 L390.62,328.89 L391.59,328.88 L392.56,328.86 L393.53,328.85 L394.51,328.83 L395.48,328.81 L396.45,328.79 L397.43,328.76 L398.4,328.73 L399.37,328.69 L400.35,328.65 L401.32,328.61 L402.29,328.55 L403.26,328.5 L404.24,328.43 L405.21,328.35 L406.18,328.26 L407.16,328.16 L408.13,328.05 L409.1,327.92 L410.08,327.78 L411.05,327.61 L412.02,327.42 L412.99,327.21 L413.97,326.96 L414.94,326.69 L415.91,326.38 L416.89,326.03 L417.86,325.64 L418.83,325.2 L419.81,324.7 L420.78,324.15 L421.75,323.53 L422.72,322.84 L423.7,322.07 L424.67,321.22 L425.64,320.29 L426.62,319.26 L427.59,318.14 L428.56,316.92 L429.54,315.6 L430.51,314.19 L431.48,312.67 L432.45,311.07 L433.43,309.39 L434.4,307.62 L435.37,305.8 L436.35,303.92 L437.32,302 L438.29,300.07 L439.27,298.13 L440.24,296.21 L441.21,294.31 L442.18,292.46 L443.16,290.67 L444.13,288.95 L445.1,287.32 L446.08,285.77 L447.05,284.31 L448.02,282.96 L449,281.7 L449.97,280.54 L450.94,279.48 L451.91,278.5 L452.89,277.62 L453.86,276.82 L454.83,276.1 L455.81,275.45 L456.78,274.87 L457.75,274.36 L458.73,273.89 L459.7,273.48 L460.67,273.11 L461.64,272.79 L462.62,272.5 L463.59,272.25 L464.56,272.02 L465.54,271.83 L466.51,271.65 L467.48,271.5 L468.46,271.36 L469.43,271.24 L470.4,271.14 L471.37,271.04 L472.35,270.96 L473.32,270.89 L474.29,270.83 L475.27,270.77 L476.24,270.73 L477.21,270.68 L478.19,270.65 L479.16,270.62 L480.13,270.59 L481.1,270.56 L482.08,270.54 L483.05,270.52 L484.02,270.5 L485,270.49 L485.97,270.48 L486.94,270.46 L487.92,270.45 L488.89,270.45 L489.86,270.44 L490.83,270.43 L491.81,270.43" fill="none" stroke="#1420c8" stroke-width="1.6"/>
<path d="M356.56,323.2 L356.56,326.4 M353.86,323.2 L359.26,323.2 M353.86,326.4 L359.26,326.4" stroke="#e01b1b" stroke-width="1.1" fill="none"/>
<rect x="353.86" y="322.1" width="5.4" height="5.4" fill="#e01b1b"/>
<path d="M385.75,325.1 L385.75,328.1 M383.05,325.1 L388.45,325.1 M383.05,328.1 L388.45,328.1" stroke="#e01b1b" stroke-width="1.1" fill="none"/>
<rect x="383.05" y="323.9" width="5.4" height="5.4" fill="#e01b1b"/>
<path d="M395.48,322.5 L395.48,328.3 M392.78,322.5 L398.18,322.5 M392.78,328.3 L398.18,328.3" stroke="#e01b1b" stroke-width="1.1" fill="none"/>
<rect x="392.78" y="322.7" width="5.4" height="5.4" fill="#e01b1b"/>

<rect x="402.51" y="331.7" width="5.4" height="5.4" fill="#e01b1b"/>
<path d="M414.94,322 L414.94,332 M412.24,322 L417.64,322 M412.24,332 L417.64,332" stroke="#e01b1b" stroke-width="1.1" fill="none"/>
<rect x="412.24" y="324.3" width="5.4" height="5.4" fill="#e01b1b"/>

<rect x="421.97" y="336.4" width="5.4" height="5.4" fill="#e01b1b"/>

<rect x="431.7" y="335.9" width="5.4" height="5.4" fill="#e01b1b"/>

<rect x="441.43" y="331.8" width="5.4" height="5.4" fill="#e01b1b"/>
<path d="M453.86,330.2 L453.86,333.2 M451.16,330.2 L456.56,330.2 M451.16,333.2 L456.56,333.2" stroke="#e01b1b" stroke-width="1.1" fill="none"/>
<rect x="451.16" y="329" width="5.4" height="5.4" fill="#e01b1b"/>

<rect x="460.89" y="322.1" width="5.4" height="5.4" fill="#e01b1b"/>

<rect x="470.62" y="326.9" width="5.4" height="5.4" fill="#e01b1b"/>

<rect x="490.08" y="325.2" width="5.4" height="5.4" fill="#e01b1b"/>
<path d="M356.56,325.7 L356.56,328.1 M353.86,325.7 L359.26,325.7 M353.86,328.1 L359.26,328.1" stroke="#1420c8" stroke-width="1.1" fill="none"/>
<path d="M356.56,323.85 L359.46,329.22 L353.66,329.22 Z" fill="#1420c8"/>
<path d="M376.02,328 L376.02,329 M373.32,328 L378.72,328 M373.32,329 L378.72,329" stroke="#1420c8" stroke-width="1.1" fill="none"/>
<path d="M376.02,325.45 L378.92,330.82 L373.12,330.82 Z" fill="#1420c8"/>
<path d="M385.75,329.3 L385.75,331.3 M383.05,329.3 L388.45,329.3 M383.05,331.3 L388.45,331.3" stroke="#1420c8" stroke-width="1.1" fill="none"/>
<path d="M385.75,327.25 L388.65,332.62 L382.85,332.62 Z" fill="#1420c8"/>
<path d="M395.48,329.2 L395.48,332.4 M392.78,329.2 L398.18,329.2 M392.78,332.4 L398.18,332.4" stroke="#1420c8" stroke-width="1.1" fill="none"/>
<path d="M395.48,327.75 L398.38,333.12 L392.58,333.12 Z" fill="#1420c8"/>
<path d="M405.21,332.9 L405.21,333.9 M402.51,332.9 L407.91,332.9 M402.51,333.9 L407.91,333.9" stroke="#1420c8" stroke-width="1.1" fill="none"/>
<path d="M405.21,330.35 L408.11,335.72 L402.31,335.72 Z" fill="#1420c8"/>
<path d="M414.94,327.2 L414.94,330.2 M412.24,327.2 L417.64,327.2 M412.24,330.2 L417.64,330.2" stroke="#1420c8" stroke-width="1.1" fill="none"/>
<path d="M414.94,325.65 L417.84,331.02 L412.04,331.02 Z" fill="#1420c8"/>

<path d="M424.67,321.06 L427.57,326.42 L421.77,326.42 Z" fill="#1420c8"/>

<path d="M434.4,307.56 L437.3,312.92 L431.5,312.92 Z" fill="#1420c8"/>

<path d="M444.13,286.75 L447.03,292.12 L441.23,292.12 Z" fill="#1420c8"/>

<path d="M453.86,271.15 L456.76,276.52 L450.96,276.52 Z" fill="#1420c8"/>
<path d="M463.59,269.6 L463.59,273.6 M460.89,269.6 L466.29,269.6 M460.89,273.6 L466.29,273.6" stroke="#1420c8" stroke-width="1.1" fill="none"/>
<path d="M463.59,268.56 L466.49,273.92 L460.69,273.92 Z" fill="#1420c8"/>

<path d="M473.32,270.35 L476.22,275.72 L470.42,275.72 Z" fill="#1420c8"/>
<path d="M492.78,267.1 L492.78,272.7 M490.08,267.1 L495.48,267.1 M490.08,272.7 L495.48,272.7" stroke="#1420c8" stroke-width="1.1" fill="none"/>
<path d="M492.78,266.85 L495.68,272.22 L489.88,272.22 Z" fill="#1420c8"/>
<path d="M356.56,309.6 L356.56,315 M353.86,309.6 L359.26,309.6 M353.86,315 L359.26,315" stroke="#2ee02e" stroke-width="1.1" fill="none"/>
<path d="M356.56,309.5 L359.36,312.3 L356.56,315.1 L353.76,312.3 Z" fill="#2ee02e"/>
<path d="M376.02,321.1 L376.02,325.1 M373.32,321.1 L378.72,321.1 M373.32,325.1 L378.72,325.1" stroke="#2ee02e" stroke-width="1.1" fill="none"/>
<path d="M376.02,320.3 L378.82,323.1 L376.02,325.9 L373.22,323.1 Z" fill="#2ee02e"/>
<path d="M385.75,311 L385.75,316.6 M383.05,311 L388.45,311 M383.05,316.6 L388.45,316.6" stroke="#2ee02e" stroke-width="1.1" fill="none"/>
<path d="M385.75,311 L388.55,313.8 L385.75,316.6 L382.95,313.8 Z" fill="#2ee02e"/>
<path d="M395.48,317.7 L395.48,320.7 M392.78,317.7 L398.18,317.7 M392.78,320.7 L398.18,320.7" stroke="#2ee02e" stroke-width="1.1" fill="none"/>
<path d="M395.48,316.4 L398.28,319.2 L395.48,322 L392.68,319.2 Z" fill="#2ee02e"/>
<path d="M405.21,319 L405.21,321 M402.51,319 L407.91,319 M402.51,321 L407.91,321" stroke="#2ee02e" stroke-width="1.1" fill="none"/>
<path d="M405.21,317.2 L408.01,320 L405.21,322.8 L402.41,320 Z" fill="#2ee02e"/>
<path d="M414.94,322.6 L414.94,326.2 M412.24,322.6 L417.64,322.6 M412.24,326.2 L417.64,326.2" stroke="#2ee02e" stroke-width="1.1" fill="none"/>
<path d="M414.94,321.6 L417.74,324.4 L414.94,327.2 L412.14,324.4 Z" fill="#2ee02e"/>
<path d="M424.67,303.7 L424.67,308.7 M421.97,303.7 L427.37,303.7 M421.97,308.7 L427.37,308.7" stroke="#2ee02e" stroke-width="1.1" fill="none"/>
<path d="M424.67,303.4 L427.47,306.2 L424.67,309 L421.87,306.2 Z" fill="#2ee02e"/>
<path d="M434.4,299.2 L434.4,301.2 M431.7,299.2 L437.1,299.2 M431.7,301.2 L437.1,301.2" stroke="#2ee02e" stroke-width="1.1" fill="none"/>
<path d="M434.4,297.4 L437.2,300.2 L434.4,303 L431.6,300.2 Z" fill="#2ee02e"/>
<path d="M444.13,278.7 L444.13,283.7 M441.43,278.7 L446.83,278.7 M441.43,283.7 L446.83,283.7" stroke="#2ee02e" stroke-width="1.1" fill="none"/>
<path d="M444.13,278.4 L446.93,281.2 L444.13,284 L441.33,281.2 Z" fill="#2ee02e"/>
<path d="M453.86,266.2 L453.86,269.2 M451.16,266.2 L456.56,266.2 M451.16,269.2 L456.56,269.2" stroke="#2ee02e" stroke-width="1.1" fill="none"/>
<path d="M453.86,264.9 L456.66,267.7 L453.86,270.5 L451.06,267.7 Z" fill="#2ee02e"/>
<path d="M463.59,265.1 L463.59,269.5 M460.89,265.1 L466.29,265.1 M460.89,269.5 L466.29,269.5" stroke="#2ee02e" stroke-width="1.1" fill="none"/>
<path d="M463.59,264.5 L466.39,267.3 L463.59,270.1 L460.79,267.3 Z" fill="#2ee02e"/>

<path d="M473.32,259 L476.12,261.8 L473.32,264.6 L470.52,261.8 Z" fill="#2ee02e"/>
<path d="M492.78,258.3 L492.78,265.3 M490.08,258.3 L495.48,258.3 M490.08,265.3 L495.48,265.3" stroke="#2ee02e" stroke-width="1.1" fill="none"/>
<path d="M492.78,259 L495.58,261.8 L492.78,264.6 L489.98,261.8 Z" fill="#2ee02e"/>
<line x1="53" y1="440.7" x2="53" y2="591.7" stroke="#000" stroke-width="1.5"/>
<line x1="52.3" y1="591" x2="242.5" y2="591" stroke="#000" stroke-width="1.5"/>
<line x1="49" y1="591" x2="53" y2="591" stroke="#000" stroke-width="1.3"/>
<text x="46.6" y="595" font-size="10.3" font-weight="normal" text-anchor="end" fill="#222" font-family='"Liberation Serif", serif'>0</text>
<line x1="49" y1="541.1" x2="53" y2="541.1" stroke="#000" stroke-width="1.3"/>
<text x="46.6" y="545.1" font-size="10.3" font-weight="normal" text-anchor="end" fill="#222" font-family='"Liberation Serif", serif'>5</text>
<line x1="49" y1="491.2" x2="53" y2="491.2" stroke="#000" stroke-width="1.3"/>
<text x="46.6" y="495.2" font-size="10.3" font-weight="normal" text-anchor="end" fill="#222" font-family='"Liberation Serif", serif'>10</text>
<line x1="49" y1="441.3" x2="53" y2="441.3" stroke="#000" stroke-width="1.3"/>
<text x="46.6" y="445.3" font-size="10.3" font-weight="normal" text-anchor="end" fill="#222" font-family='"Liberation Serif", serif'>15</text>
<line x1="71.7" y1="543.4" x2="71.7" y2="534.9" stroke="#000" stroke-width="1.6"/>
<line x1="65.1" y1="534.9" x2="78.3" y2="534.9" stroke="#000" stroke-width="1.6"/>
<rect x="59.6" y="544.2" width="24.2" height="46.8" fill="#fff" stroke="#000" stroke-width="1.6"/>
<line x1="97.3" y1="550.8" x2="97.3" y2="546.6" stroke="#000" stroke-width="1.6"/>
<line x1="90.7" y1="546.6" x2="103.9" y2="546.6" stroke="#000" stroke-width="1.6"/>
<rect x="83.8" y="550.8" width="26.2" height="40.2" fill="#000"/>
<line x1="134.05" y1="545.1" x2="134.05" y2="543.8" stroke="#000" stroke-width="1.6"/>
<line x1="127.45" y1="543.8" x2="140.65" y2="543.8" stroke="#000" stroke-width="1.6"/>
<rect x="122.3" y="545.9" width="23.5" height="45.1" fill="#fff" stroke="#000" stroke-width="1.6"/>
<line x1="159.85" y1="489.7" x2="159.85" y2="476.6" stroke="#000" stroke-width="1.6"/>
<line x1="153.25" y1="476.6" x2="166.45" y2="476.6" stroke="#000" stroke-width="1.6"/>
<rect x="145.8" y="489.7" width="27.3" height="101.3" fill="#000"/>
<line x1="197.05" y1="535.1" x2="197.05" y2="529.2" stroke="#000" stroke-width="1.6"/>
<line x1="190.45" y1="529.2" x2="203.65" y2="529.2" stroke="#000" stroke-width="1.6"/>
<rect x="185.3" y="535.9" width="23.5" height="55.1" fill="#fff" stroke="#000" stroke-width="1.6"/>
<line x1="222.55" y1="490" x2="222.55" y2="478.5" stroke="#000" stroke-width="1.6"/>
<line x1="215.95" y1="478.5" x2="229.15" y2="478.5" stroke="#000" stroke-width="1.6"/>
<rect x="208.8" y="490" width="26.7" height="101" fill="#000"/>
<text x="160" y="463" font-size="11" font-weight="bold" text-anchor="middle" fill="#000" font-family='"Liberation Serif", serif'>Ω</text>
<text x="223" y="464.4" font-size="11" font-weight="bold" text-anchor="middle" fill="#000" font-family='"Liberation Serif", serif'>Ω</text>
<rect x="69.3" y="439.3" width="22" height="6.2" fill="#fff" stroke="#000" stroke-width="1.6"/>
<rect x="68.5" y="456" width="23.6" height="7.3" fill="#000"/>
<text x="95" y="445.9" font-size="10.6" font-weight="bold" text-anchor="start" fill="#000" font-family='"Liberation Serif", serif'>Vehicle</text>
<text x="94.5" y="463.1" font-size="10.4" font-weight="bold" text-anchor="start" fill="#000" font-family='"Liberation Serif", serif'>TNFα</text>
<text x="84.6" y="605" font-size="10.2" font-weight="normal" text-anchor="middle" fill="#111" font-family='"Liberation Serif", serif'>None</text>
<text x="147" y="605" font-size="10.2" font-weight="normal" text-anchor="middle" fill="#111" font-family='"Liberation Serif", serif'>HS5</text>
<text x="210.3" y="605" font-size="10.2" font-weight="normal" text-anchor="middle" fill="#111" font-family='"Liberation Serif", serif'>HS27a</text>
<text x="146.3" y="618.9" font-size="13.1" font-weight="bold" text-anchor="middle" fill="#000" font-family='"Liberation Serif", serif'>Stromal Cell Line</text>
<text x="17.2" y="516.8" font-size="12.2" font-weight="bold" text-anchor="middle" fill="#000" font-family='"Liberation Serif", serif' transform="rotate(-90 17.2 516.8)">Percent Apoptosis</text>
<text x="29" y="516.8" font-size="10.4" font-weight="normal" text-anchor="middle" fill="#222" font-family='"Liberation Serif", serif' transform="rotate(-90 29 516.8)">(Annexin V Pos, PI Neg)</text>
<line x1="331.9" y1="442.8" x2="331.9" y2="591.9" stroke="#000" stroke-width="1.5"/>
<line x1="331.2" y1="591.2" x2="519.5" y2="591.2" stroke="#000" stroke-width="1.5"/>
<line x1="327.9" y1="591.2" x2="331.9" y2="591.2" stroke="#000" stroke-width="1.3"/>
<text x="325.8" y="595.2" font-size="10.3" font-weight="normal" text-anchor="end" fill="#222" font-family='"Liberation Serif", serif'>0</text>
<line x1="327.9" y1="541.93" x2="331.9" y2="541.93" stroke="#000" stroke-width="1.3"/>
<text x="325.8" y="545.93" font-size="10.3" font-weight="normal" text-anchor="end" fill="#222" font-family='"Liberation Serif", serif'>5</text>
<line x1="327.9" y1="492.67" x2="331.9" y2="492.67" stroke="#000" stroke-width="1.3"/>
<text x="325.8" y="496.67" font-size="10.3" font-weight="normal" text-anchor="end" fill="#222" font-family='"Liberation Serif", serif'>10</text>
<line x1="327.9" y1="443.4" x2="331.9" y2="443.4" stroke="#000" stroke-width="1.3"/>
<text x="325.8" y="447.4" font-size="10.3" font-weight="normal" text-anchor="end" fill="#222" font-family='"Liberation Serif", serif'>15</text>
<line x1="350" y1="543.5" x2="350" y2="536.9" stroke="#000" stroke-width="1.6"/>
<line x1="343.4" y1="536.9" x2="356.6" y2="536.9" stroke="#000" stroke-width="1.6"/>
<rect x="338.5" y="544.3" width="23" height="46.9" fill="#fff" stroke="#000" stroke-width="1.6"/>
<line x1="375.3" y1="550.2" x2="375.3" y2="547.9" stroke="#000" stroke-width="1.6"/>
<line x1="368.7" y1="547.9" x2="381.9" y2="547.9" stroke="#000" stroke-width="1.6"/>
<rect x="361.5" y="550.2" width="26.8" height="41" fill="#000"/>
<line x1="412.55" y1="544.2" x2="412.55" y2="537.2" stroke="#000" stroke-width="1.6"/>
<line x1="405.95" y1="537.2" x2="419.15" y2="537.2" stroke="#000" stroke-width="1.6"/>
<rect x="400.9" y="545" width="23.3" height="46.2" fill="#fff" stroke="#000" stroke-width="1.6"/>
<line x1="437.9" y1="546.9" x2="437.9" y2="540" stroke="#000" stroke-width="1.6"/>
<line x1="431.3" y1="540" x2="444.5" y2="540" stroke="#000" stroke-width="1.6"/>
<rect x="424.2" y="546.9" width="26.6" height="44.3" fill="#000"/>
<line x1="474.85" y1="539.5" x2="474.85" y2="535.8" stroke="#000" stroke-width="1.6"/>
<line x1="468.25" y1="535.8" x2="481.45" y2="535.8" stroke="#000" stroke-width="1.6"/>
<rect x="463.2" y="540.3" width="23.3" height="50.9" fill="#fff" stroke="#000" stroke-width="1.6"/>
<line x1="500.25" y1="536.1" x2="500.25" y2="528.9" stroke="#000" stroke-width="1.6"/>
<line x1="493.65" y1="528.9" x2="506.85" y2="528.9" stroke="#000" stroke-width="1.6"/>
<rect x="486.5" y="536.1" width="26.7" height="55.1" fill="#000"/>
<rect x="346.8" y="442" width="22" height="6.2" fill="#fff" stroke="#000" stroke-width="1.6"/>
<rect x="346" y="457.9" width="23.6" height="7.3" fill="#000"/>
<text x="371.5" y="448.6" font-size="10.6" font-weight="bold" text-anchor="start" fill="#000" font-family='"Liberation Serif", serif'>Vehicle</text>
<text x="371" y="465" font-size="10.4" font-weight="bold" text-anchor="start" fill="#000" font-family='"Liberation Serif", serif'>TNFα</text>
<text x="363.3" y="605" font-size="10.2" font-weight="normal" text-anchor="middle" fill="#111" font-family='"Liberation Serif", serif'>None</text>
<text x="425.8" y="605" font-size="10.2" font-weight="normal" text-anchor="middle" fill="#111" font-family='"Liberation Serif", serif'>HS5</text>
<text x="487.9" y="605" font-size="10.2" font-weight="normal" text-anchor="middle" fill="#111" font-family='"Liberation Serif", serif'>HS27a</text>
<text x="424.7" y="618.9" font-size="13.1" font-weight="bold" text-anchor="middle" fill="#000" font-family='"Liberation Serif", serif'>Stromal Cell Line</text>
<text x="294.2" y="517.8" font-size="12.2" font-weight="bold" text-anchor="middle" fill="#000" font-family='"Liberation Serif", serif' transform="rotate(-90 294.2 517.8)">Percent Apoptosis</text>
<text x="306.6" y="517.8" font-size="10.4" font-weight="normal" text-anchor="middle" fill="#222" font-family='"Liberation Serif", serif' transform="rotate(-90 306.6 517.8)">(Annexin V Pos, PI Neg)</text>
</svg>
</body></html>
